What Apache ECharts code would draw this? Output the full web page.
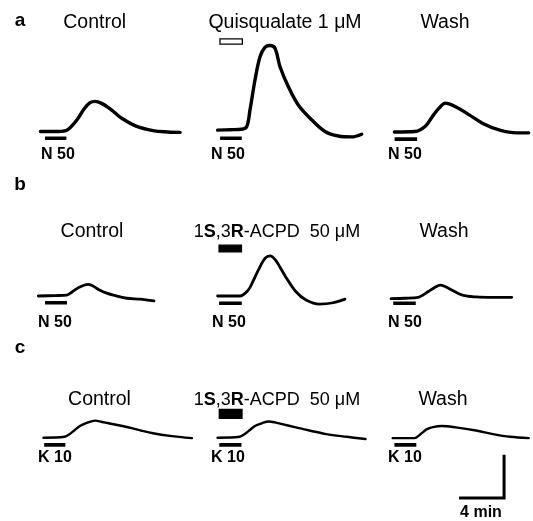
<!DOCTYPE html>
<html>
<head>
<meta charset="utf-8">
<script src="https://cdn.jsdelivr.net/npm/echarts@6/dist/echarts.min.js"></script>
<style>
  html, body { margin: 0; padding: 0; background: #fff; }
  #chart { width: 533px; height: 521px; }
</style>
</head>
<body>
<div id="chart"></div>
<script>
// traces: [time (min), response (scale-bar units)]
const aControl = [[0,0],[1.3,0],[2.27,0.02],[2.7,0.1],[3.33,0.29],[3.87,0.5],[4.4,0.64],[4.85,0.67],[5.47,0.62],[6.1,0.52],[6.6,0.42],[7.25,0.29],[8.5,0.12],[10,0.02],[11.3,-0.01],[12.4,-0.02]];
const aQuis = [[0,0.03],[1.1,0.04],[2.14,0.05],[2.59,0.11],[2.88,0.48],[3.32,1.14],[3.77,1.66],[4.21,1.87],[4.66,1.91],[5.1,1.85],[5.55,1.44],[6.28,1.0],[7.17,0.59],[8.36,0.26],[9.55,0],[10.73,-0.1],[11.92,-0.12],[12.81,-0.06]];
const aWash = [[0,-0.01],[1.81,0],[2.72,0.11],[3.48,0.37],[3.97,0.52],[4.53,0.63],[5.44,0.55],[6.65,0.37],[7.86,0.18],[9.37,0.03],[10.88,-0.03],[11.94,-0.03]];

const bControl = [[0,0],[1.48,0.01],[2.52,0.02],[3.0,0.09],[3.53,0.18],[4.06,0.24],[4.44,0.26],[4.86,0.22],[5.48,0.13],[6.02,0.07],[6.67,0.02],[7.86,-0.05],[9.04,-0.07],[10.28,-0.11]];
const bAcpd = [[0,0],[1.96,0],[2.72,0.13],[3.15,0.33],[3.63,0.58],[4.23,0.84],[4.68,0.89],[5.14,0.8],[5.55,0.64],[6.04,0.43],[6.95,0.1],[7.86,-0.09],[9.07,-0.18],[10.28,-0.15],[11.32,-0.07]];
const bWash = [[0,-0.06],[1.24,-0.05],[2.42,-0.03],[2.84,0.02],[3.32,0.1],[3.82,0.18],[4.38,0.24],[4.89,0.2],[5.44,0.13],[6.35,0.02],[7.56,-0.02],[9.07,-0.03],[10.73,-0.03]];

const cControl = [[0,0],[1.88,0.02],[2.27,0.07],[2.78,0.17],[3.24,0.26],[3.84,0.33],[4.6,0.38],[5.2,0.35],[5.8,0.32],[7.01,0.26],[8.52,0.17],[9.73,0.1],[11.24,0.04],[13.2,-0.01]];
const cAcpd = [[0,0],[1.96,0.02],[2.35,0.07],[2.87,0.17],[3.32,0.26],[3.93,0.32],[4.53,0.36],[5.1,0.34],[5.74,0.3],[6.95,0.23],[8.16,0.16],[9.67,0.08],[11.48,0.02],[13.15,-0.03]];
const cWash = [[0,-0.01],[1.96,-0.01],[2.34,0.05],[2.72,0.13],[3.05,0.19],[3.48,0.23],[4.38,0.26],[5.59,0.23],[7.4,0.16],[8.92,0.08],[10.43,0.02],[12.09,-0.01]];

// stimulus bars under traces: [start min, end min, level]
const stimA = [[0.4, 2.3, -0.15], [0.22, 2.15, -0.15], [0.02, 2.02, -0.17]];
const stimB = [[0.6, 2.55, -0.15], [0.13, 2.15, -0.16], [0.2, 2.2, -0.16]];
const stimC = [[0.06, 1.94, -0.16], [0.15, 2.12, -0.16], [0.15, 2.1, -0.16]];
const stimLabels = ['N 50', 'N 50', 'K 10'];

// drug application bars: [start, end, bottom, top]
const drugA = [0.21, 2.2, 1.94, 2.06];
const drugB = [0.13, 2.12, 0.98, 1.13];
const drugC = [0.15, 2.17, 0.43, 0.63];

const titlesA = ['Control', 'Quisqualate 1 \u03bcM', 'Wash'];
const titlesB = ['Control', '1{b|S},3{b|R}-ACPD  50 \u03bcM', 'Wash'];
const titlesC = ['Control', '1{b|S},3{b|R}-ACPD  50 \u03bcM', 'Wash'];
const panelLetters = ['a', 'b', 'c'];

const scaleBarMin = 4;
const scaleBarUnit = 1;

const PX_MIN = 11.25, PX_UNIT = 45;
const X_MAX = [14, 14, 12.2], Y_MIN = -1.5, Y_MAX = 2.3;
const FONT = "'Liberation Sans', Arial, Helvetica, sans-serif";

const rows = [
  { base: 131.5, lefts: [40.5, 217.6, 394.4], traces: [aControl, aQuis, aWash], stim: stimA, drug: drugA, drugFill: '#fff', lw: 3.4,
    titles: titlesA, titleX: [94.7, 285, 445], titleY: 23, letterY: 21, labelX: [41, 211, 388], labelY: 155 },
  { base: 296, lefts: [38.3, 217.6, 391], traces: [bControl, bAcpd, bWash], stim: stimB, drug: drugB, drugFill: '#000', lw: 2.8,
    titles: titlesB, titleX: [92, 277, 444], titleY: 232, letterY: 184.5, labelX: [38, 212, 388], labelY: 322.5 },
  { base: 437.7, lefts: [43.5, 217.6, 392.7], traces: [cControl, cAcpd, cWash], stim: stimC, drug: drugC, drugFill: '#000', lw: 2.4,
    titles: titlesC, titleX: [99.5, 277, 443], titleY: 400, letterY: 348, labelX: [38, 211, 388], labelY: 458 }
];

const chart = echarts.init(document.getElementById('chart'));

const grid = [], xAxis = [], yAxis = [], series = [], graphic = [];

rows.forEach((row, r) => {
  graphic.push({
    type: 'text', x: 20, y: row.letterY,
    style: { text: panelLetters[r], font: `bold 19px ${FONT}`, fill: '#000', textAlign: 'center', textVerticalAlign: 'middle' }
  });
  row.traces.forEach((trace, c) => {
    const gi = grid.length;
    grid.push({
      left: row.lefts[c], top: row.base - Y_MAX * PX_UNIT,
      width: X_MAX[c] * PX_MIN, height: (Y_MAX - Y_MIN) * PX_UNIT
    });
    xAxis.push({ type: 'value', gridIndex: gi, min: 0, max: X_MAX[c], show: false });
    yAxis.push({ type: 'value', gridIndex: gi, min: Y_MIN, max: Y_MAX, show: false });

    const s = {
      type: 'line', xAxisIndex: gi, yAxisIndex: gi, data: trace,
      smooth: 0.35, showSymbol: false, silent: true,
      lineStyle: { color: '#000', width: row.lw, cap: 'round', join: 'round' }
    };
    if (c === 1) {
      const d = row.drug;
      s.markArea = {
        silent: true,
        itemStyle: { color: row.drugFill, borderColor: '#000', borderWidth: 1.3 },
        data: [[{ coord: [d[0], d[3]] }, { coord: [d[1], d[2]] }]]
      };
    }
    series.push(s);

    const st = row.stim[c];
    series.push({
      type: 'line', xAxisIndex: gi, yAxisIndex: gi,
      data: [[st[0], st[2]], [st[1], st[2]]],
      showSymbol: false, silent: true,
      lineStyle: { color: '#000', width: 3.6 }
    });

    graphic.push({
      type: 'text', x: row.labelX[c], y: row.labelY,
      style: { text: stimLabels[r], font: `bold 16px ${FONT}`, fill: '#000', textVerticalAlign: 'middle' }
    });
    graphic.push({
      type: 'text', x: row.titleX[c], y: row.titleY,
      style: {
        text: row.titles[c], font: `${c === 1 && r > 0 ? 18 : 19.5}px ${FONT}`, fill: '#000',
        textAlign: 'center', textVerticalAlign: 'middle',
        rich: { b: { fontWeight: 'bold', fontSize: 18, fontFamily: FONT } }
      }
    });
  });
});

// calibration bar in the last panel
const sbX0 = 5.9, sbY0 = -1.34;
series.push({
  type: 'line', xAxisIndex: 8, yAxisIndex: 8,
  data: [[sbX0, sbY0], [sbX0 + scaleBarMin, sbY0], [sbX0 + scaleBarMin, sbY0 + scaleBarUnit * 0.96]],
  showSymbol: false, silent: true,
  lineStyle: { color: '#000', width: 3, join: 'miter' }
});
graphic.push({
  type: 'text', x: 481, y: 513,
  style: { text: '4 min', font: `bold 16px ${FONT}`, fill: '#000', textAlign: 'center', textVerticalAlign: 'middle' }
});

chart.setOption({
  animation: false,
  backgroundColor: '#fff',
  grid, xAxis, yAxis, series, graphic
});

window.addEventListener('resize', () => chart.resize());
</script>
</body>
</html>
